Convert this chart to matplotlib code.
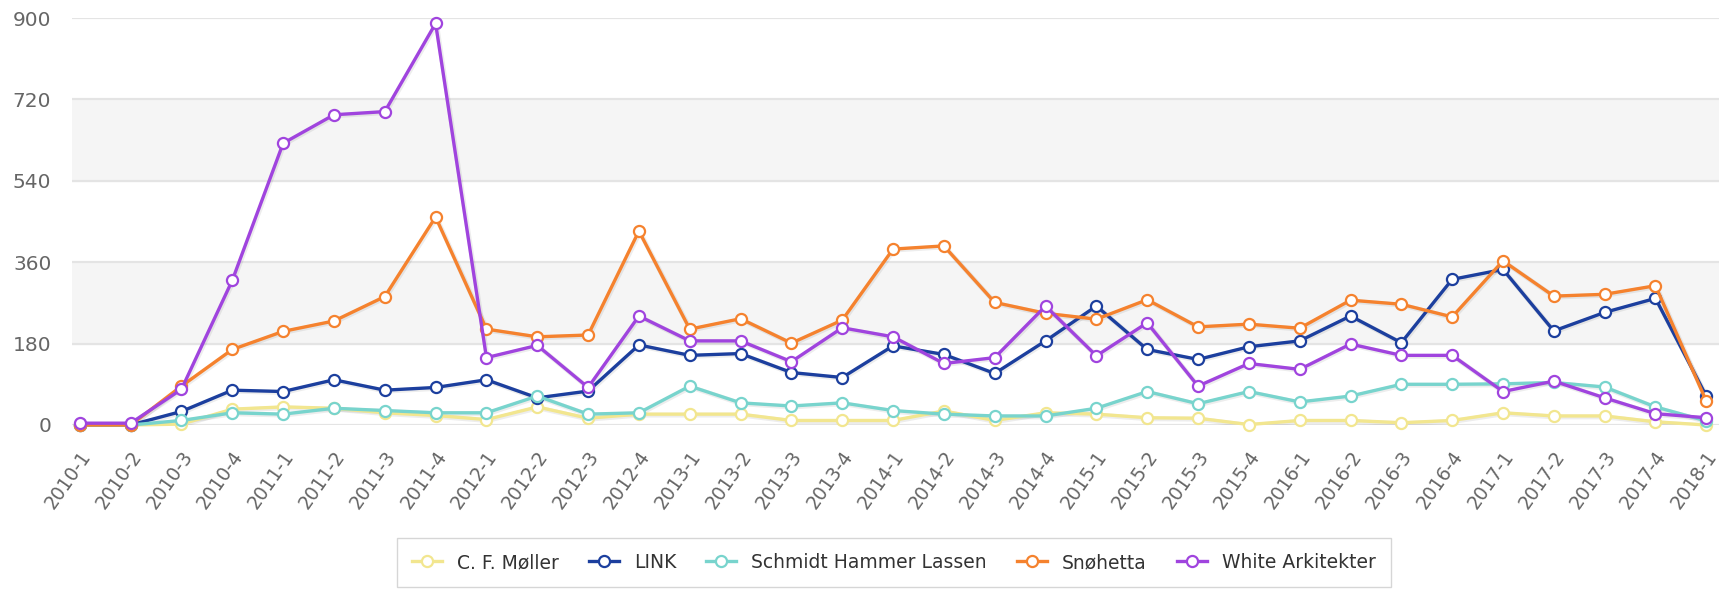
import matplotlib.pyplot as plt
import matplotlib.transforms as mtransforms
import numpy as np

# quarters 2010-1 .. 2018-1
quarters = [f"{y}-{q}" for y in range(2010, 2018) for q in range(1, 5)] + ["2018-1"]

cf_moller = [0, 0, 2, 35, 40, 37, 27, 21, 12, 40, 15, 24, 24, 24, 10, 10, 10, 31, 10, 27,
             24, 16, 15, 1, 10, 10, 5, 10, 27, 20, 20, 7, 0]
link = [0, 0, 30, 77, 74, 100, 77, 83, 100, 60, 75, 177, 154, 158, 116, 105, 175, 156, 114, 186,
        263, 167, 145, 173, 186, 241, 182, 322, 344, 208, 249, 280, 64]
shl = [0, 0, 10, 27, 24, 37, 32, 27, 27, 64, 24, 27, 86, 49, 42, 49, 32, 24, 20, 20,
       37, 74, 47, 74, 51, 64, 90, 90, 91, 94, 84, 40, 9]
snohetta = [0, 0, 86, 167, 207, 230, 284, 460, 212, 195, 199, 429, 212, 235, 181, 232, 389, 396, 271, 247,
            234, 277, 217, 223, 214, 276, 267, 239, 363, 285, 289, 308, 53]
white = [4, 4, 79, 320, 623, 686, 693, 888, 149, 176, 83, 241, 186, 186, 140, 215, 195, 136, 149, 263,
         153, 226, 86, 136, 123, 179, 154, 154, 74, 97, 60, 25, 16]

names = ["C. F. Møller", "LINK", "Schmidt Hammer Lassen", "Snøhetta", "White Arkitekter"]
series = [cf_moller, link, shl, snohetta, white]
colors = ["#f2e68f", "#1c3f9e", "#78d4cd", "#f5822e", "#a044de"]

fig = plt.figure(figsize=(17.19, 5.89), dpi=100)
# plot area: 0 line at ~425px, 900 line at ~18px
ax = fig.add_axes([0.042, 1 - 425 / 589, 0.958, (425 - 18) / 589])

x = np.arange(len(quarters))

# alternating bands + grid
for lo, hi in [(180, 360), (540, 720)]:
    ax.axhspan(lo, hi, color="#f5f5f5", zorder=0)
for v in range(0, 901, 180):
    ax.axhline(v, color="#e4e4e4", lw=1.6, zorder=1)

shadow = ax.transData + mtransforms.ScaledTranslation(1 / 100, -1 / 100, fig.dpi_scale_trans)
for name, vals, c in zip(names, series, colors):
    ax.plot(x, vals, color="#000000", lw=3.5, alpha=0.07, zorder=2, transform=shadow)
    ax.plot(x, vals, color=c, lw=2.4, marker="o", ms=8, mfc="white", mec=c, mew=1.6,
            label=name, zorder=3, clip_on=False)

ax.set_xlim(-0.15, 32.25)
ax.set_ylim(0, 900)
ax.set_yticks(range(0, 901, 180))
ax.set_xticks(x)
ax.set_xticklabels(quarters, rotation=55, ha="right", va="center", rotation_mode="anchor")
ax.tick_params(axis="x", length=0, pad=20, labelsize=13.5, labelcolor="#666666")
ax.tick_params(axis="y", length=0, pad=15, labelsize=14.5, labelcolor="#666666")
shift = mtransforms.ScaledTranslation(7 / 100, 0, fig.dpi_scale_trans)
for lbl in ax.get_xticklabels():
    lbl.set_transform(lbl.get_transform() + shift)
for s in ax.spines.values():
    s.set_visible(False)

leg = fig.legend(loc="center", bbox_to_anchor=(0.52, 0.045), ncol=5, fontsize=13.5,
                 frameon=True, fancybox=False, edgecolor="#cccccc", handlelength=1.6,
                 columnspacing=1.6, borderpad=0.8)
for t in leg.get_texts():
    t.set_color("#333333")

fig.savefig("out.png", dpi=100)
